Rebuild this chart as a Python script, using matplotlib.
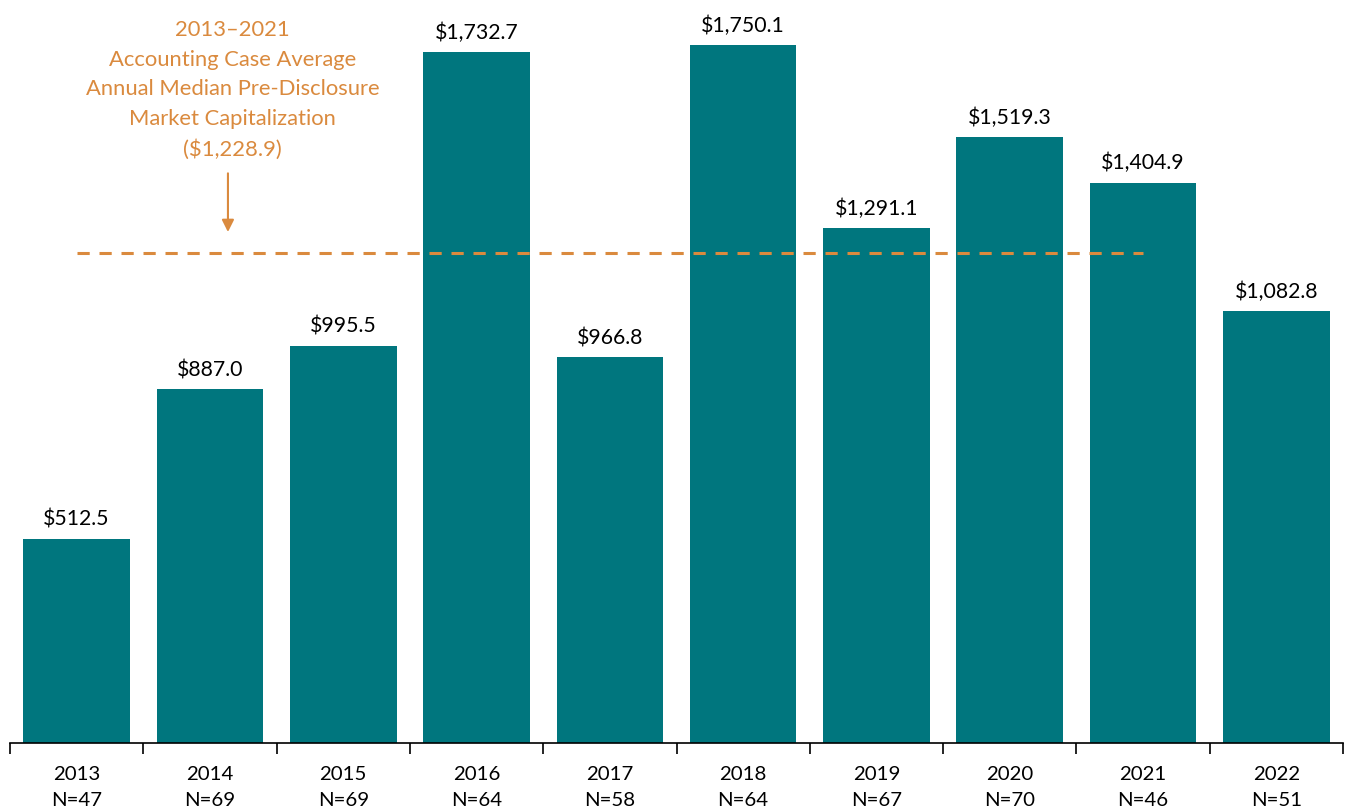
import matplotlib
matplotlib.use("Agg")
import matplotlib.pyplot as plt
import numpy as np

years = ["2013", "2014", "2015", "2016", "2017", "2018", "2019", "2020", "2021", "2022"]
counts = [47, 69, 69, 64, 58, 64, 67, 70, 46, 51]
values = [512.5, 887.0, 995.5, 1732.7, 966.8, 1750.1, 1291.1, 1519.3, 1404.9, 1082.8]
average_value = 1228.9
average_label = "2013\u20132021\nAccounting Case Average\nAnnual Median Pre-Disclosure\nMarket Capitalization\n($1,228.9)"

TEAL = "#00767E"
ORANGE = "#DA8A3E"

plt.rcParams['font.family'] = ['Lato', 'DejaVu Sans']

fig = plt.figure(figsize=(13.49, 8.12), dpi=100)
ax = fig.add_axes([10/1349, 1 - 744/812, 1333/1349, 744/812])

x = np.arange(len(years))
bars = ax.bar(x, values, width=0.8, color=TEAL, zorder=2)
for xi, v in zip(x, values):
    ax.text(xi, v + 25, f"${v:,.1f}", ha="center", va="bottom", fontsize=15.3, color="black")

ax.plot([0, 8], [average_value, average_value], linestyle=(0, (4, 3.2)), color=ORANGE, lw=2.2, zorder=3)
ax.annotate("", xy=(1.135, average_value + 45), xytext=(1.135, 1435),
            arrowprops=dict(arrowstyle="-|>", color=ORANGE, lw=1.5, mutation_scale=18))
ax.text(1.17, 1815, average_label, ha="center", va="top", fontsize=15.8, color=ORANGE, linespacing=1.6)

ax.set_xlim(-0.5, len(years) - 0.5)
ax.set_ylim(0, 1865)
ax.set_xticks(x)
ax.set_xticklabels([f"{y}\nN={n}" for y, n in zip(years, counts)], fontsize=14.7, linespacing=1.65)
ax.set_xticks(np.arange(-0.5, len(years) + 0.5, 1), minor=True)
ax.tick_params(axis="x", which="major", length=0, pad=16)
ax.tick_params(axis="x", which="minor", length=8, width=1.2, color="black", direction="out")
ax.set_yticks([])
for s in ["top", "left", "right"]:
    ax.spines[s].set_visible(False)
ax.spines["bottom"].set_linewidth(1.2)

fig.savefig("out.png", dpi=100)
